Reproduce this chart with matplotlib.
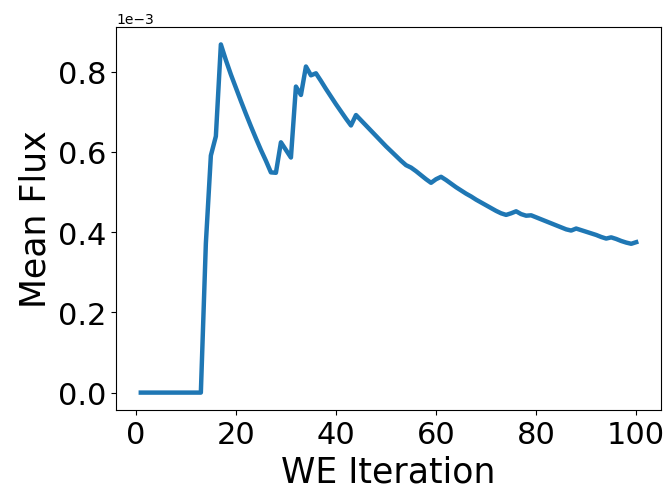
"""Mean flux per WE iteration."""
import numpy as np
import matplotlib
matplotlib.use('Agg')
import matplotlib.pyplot as plt

iterations = np.arange(1, 101)

# flux values in units of 1e-3
flux_e3 = [
    0.0, 0.0, 0.0, 0.0, 0.0, 0.0, 0.0, 0.0, 0.0, 0.0,          # 1-10
    0.0, 0.0, 0.0, 0.372, 0.591, 0.639, 0.868, 0.829, 0.793, 0.760,  # 11-20
    0.727, 0.695, 0.664, 0.634, 0.605, 0.578, 0.549, 0.548, 0.624, 0.605,  # 21-30
    0.586, 0.763, 0.742, 0.813, 0.791, 0.796, 0.777, 0.757, 0.738, 0.719,  # 31-40
    0.701, 0.683, 0.666, 0.692, 0.679, 0.666, 0.653, 0.640, 0.627, 0.614,  # 41-50
    0.602, 0.590, 0.578, 0.567, 0.561, 0.552, 0.542, 0.532, 0.523, 0.532,  # 51-60
    0.538, 0.530, 0.521, 0.512, 0.504, 0.496, 0.489, 0.481, 0.474, 0.467,  # 61-70
    0.460, 0.453, 0.447, 0.443, 0.447, 0.452, 0.445, 0.441, 0.442, 0.437,  # 71-80
    0.432, 0.427, 0.422, 0.417, 0.412, 0.407, 0.404, 0.409, 0.405, 0.401,  # 81-90
    0.397, 0.393, 0.388, 0.384, 0.387, 0.383, 0.378, 0.374, 0.371, 0.375,  # 91-100
]

flux = np.array(flux_e3) * 1e-3

fig, ax = plt.subplots(figsize=(6.68, 4.89), dpi=100)
fig.subplots_adjust(left=0.1737, right=0.9895, top=0.9427, bottom=0.1595)

ax.plot(iterations, flux, linewidth=3.2, color='#1f77b4')
ax.set_xlabel('WE Iteration', fontsize=25)
ax.set_ylabel('Mean Flux', fontsize=25)
ax.ticklabel_format(axis='y', style='sci', scilimits=(-3, -3))
plt.xticks(fontsize=22)
plt.yticks(fontsize=22)

fig.savefig('out.png')
plt.close(fig)
